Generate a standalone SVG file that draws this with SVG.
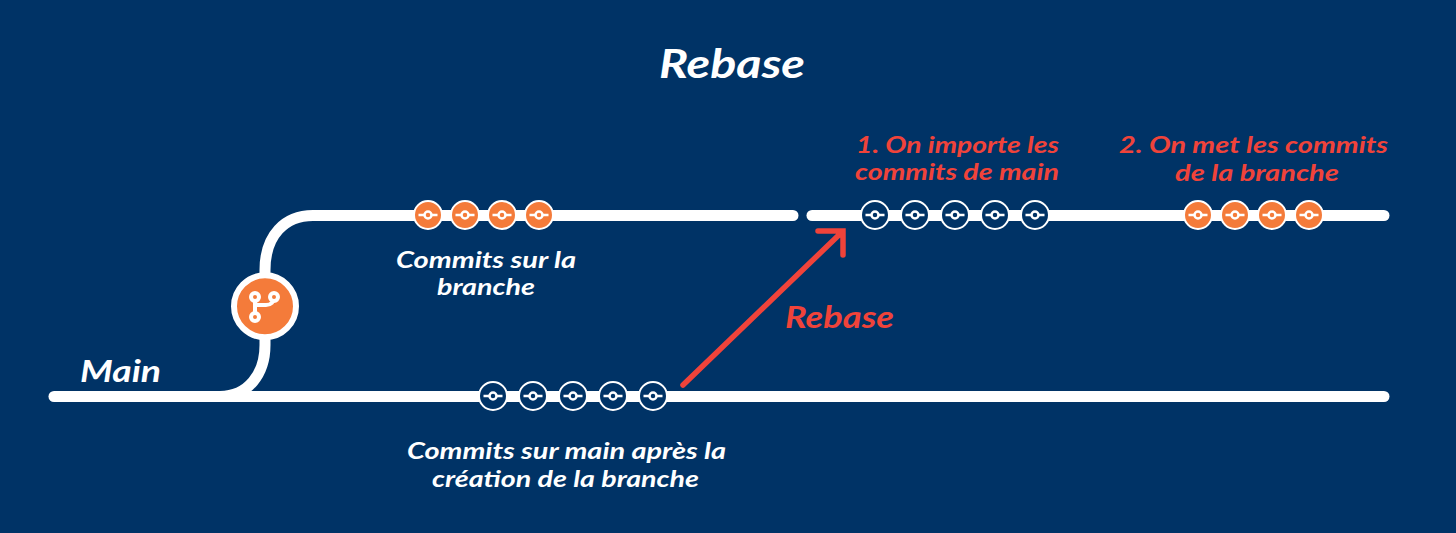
<svg xmlns="http://www.w3.org/2000/svg" width="1456" height="533" viewBox="0 0 1456 533">
<style>
.l{fill:none;stroke:#fff;stroke-width:11;stroke-linecap:round}
.o{fill:#f47b3a;stroke:#fff;stroke-width:2}
.b{fill:#003366;stroke:#fff;stroke-width:2}
.g{fill:none;stroke:#fff;stroke-width:2.500}
.t{font-family:"Lato","Noto Sans",sans-serif;font-style:italic;font-weight:700;text-anchor:start}
.w{fill:#fff}.r{fill:#f0433a}
.s{font-size:23px}
</style>
<defs>
<g id="co"><circle class="o" r="14"/><path class="g" d="M-9.500 0H-3.500M3.500 0H9.500"/><circle class="g" r="3.500"/></g>
<g id="cb"><circle class="b" r="14"/><path class="g" d="M-9.500 0H-3.500M3.500 0H9.500"/><circle class="g" r="3.500"/></g>
</defs>
<rect width="1456" height="533" fill="#003366"/>
<g id="connectors">
<path class="l" d="M54 396.500H1384"/>
<path class="l" d="M220 396.500C248 396.500 265 374 265 345V270C265 235 285 215.500 313 215.500H793"/>
<path class="l" d="M812 215.500H1384"/>
<path d="M683 385L842 232M818 231H843V255" fill="none" stroke="#f0433a" stroke-width="5.500" stroke-linecap="round" stroke-linejoin="miter"/>
</g>
<g id="branch-icon">
<circle cx="265" cy="306.300" r="31" fill="#f47b3a" stroke="#fff" stroke-width="6"/>
<path d="M255 297V317M274 297C274 302 271 305 266 305H255" fill="none" stroke="#fff" stroke-width="4"/>
<circle cx="255" cy="297" r="4" fill="#f47b3a" stroke="#fff" stroke-width="4"/>
<circle cx="274" cy="297" r="4" fill="#f47b3a" stroke="#fff" stroke-width="4"/>
<circle cx="255" cy="317" r="4" fill="#f47b3a" stroke="#fff" stroke-width="4"/>
</g>
<g id="branch-commits">
<use href="#co" x="428" y="215"/><use href="#co" x="465" y="215"/><use href="#co" x="502" y="215"/><use href="#co" x="539" y="215"/>
</g>
<g id="main-commits">
<use href="#cb" x="493" y="396"/><use href="#cb" x="533" y="396"/><use href="#cb" x="573" y="396"/><use href="#cb" x="613" y="396"/><use href="#cb" x="653" y="396"/>
</g>
<g id="rebased-main-commits">
<use href="#cb" x="875" y="215"/><use href="#cb" x="915" y="215"/><use href="#cb" x="955" y="215"/><use href="#cb" x="995" y="215"/><use href="#cb" x="1035" y="215"/>
</g>
<g id="rebased-branch-commits">
<use href="#co" x="1198" y="215"/><use href="#co" x="1235" y="215"/><use href="#co" x="1272" y="215"/><use href="#co" x="1309" y="215"/>
</g>
<g id="labels">
<text class="t w" x="659" y="78" font-size="40" textLength="146" lengthAdjust="spacingAndGlyphs">Rebase</text>
<text class="t w" x="80" y="382" font-size="30" textLength="81" lengthAdjust="spacingAndGlyphs">Main</text>
<text class="t w s" x="396" y="268" textLength="180" lengthAdjust="spacingAndGlyphs">Commits sur la</text>
<text class="t w s" x="437" y="295" textLength="98" lengthAdjust="spacingAndGlyphs">branche</text>
<text class="t w s" x="407" y="459" textLength="319" lengthAdjust="spacingAndGlyphs">Commits sur main après la</text>
<text class="t w s" x="432" y="487" textLength="267" lengthAdjust="spacingAndGlyphs">création de la branche</text>
<text class="t r" x="785" y="328" font-size="30" textLength="109" lengthAdjust="spacingAndGlyphs">Rebase</text>
<text class="t r s" x="856" y="153" textLength="203" lengthAdjust="spacingAndGlyphs">1. On importe les</text>
<text class="t r s" x="855" y="180" textLength="204" lengthAdjust="spacingAndGlyphs">commits de main</text>
<text class="t r s" x="1119" y="153" textLength="269" lengthAdjust="spacingAndGlyphs">2. On met les commits</text>
<text class="t r s" x="1175" y="181" textLength="164" lengthAdjust="spacingAndGlyphs">de la branche</text>
</g>
</svg>
